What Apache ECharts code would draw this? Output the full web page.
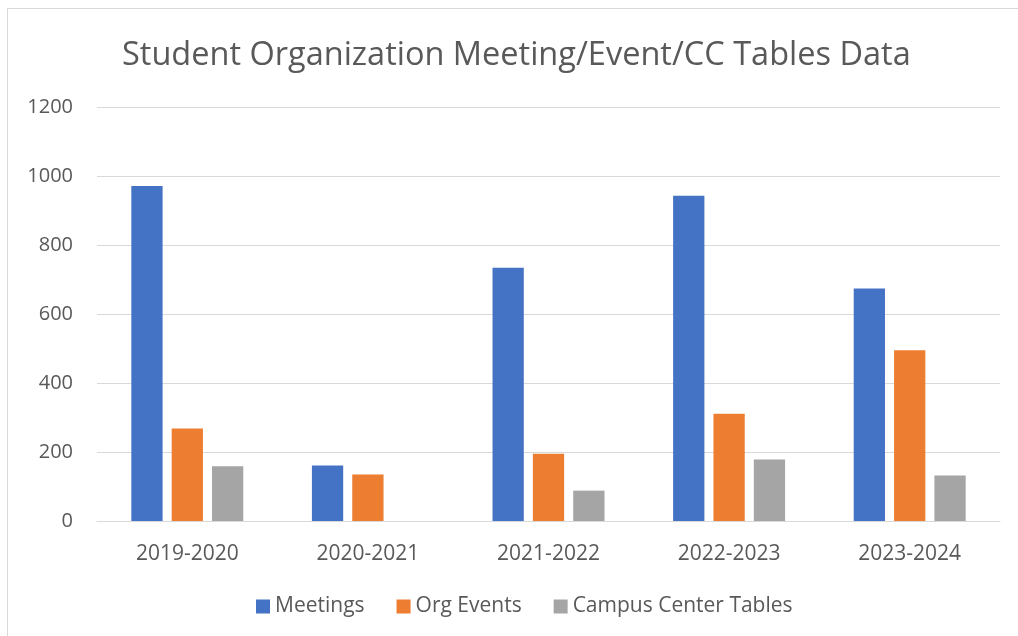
<!DOCTYPE html>
<html>
<head>
<meta charset="utf-8">
<script src="https://cdn.jsdelivr.net/npm/echarts@6/dist/echarts.min.js"></script>
<style>
  html, body { margin: 0; padding: 0; background: #fff; }
  #chart { width: 1018px; height: 636px; }
</style>
</head>
<body>
<div id="chart"></div>
<script>
// Data
const years = ['2019-2020', '2020-2021', '2021-2022', '2022-2023', '2023-2024'];
const meetings = [971, 161, 734, 943, 674];
const orgEvents = [268, 135, 195, 311, 495];
const ccTables = [159, 0, 88, 178, 132];

const font = '"Open Sans", "Noto Sans", sans-serif';
const textColor = '#595959';

const chart = echarts.init(document.getElementById('chart'));

function barSeries(name, data, color) {
  return {
    name: name,
    type: 'bar',
    data: data,
    barGap: '29%',
    barCategoryGap: '38%',
    itemStyle: { color: color },
    emphasis: { disabled: true }
  };
}

const option = {
  animation: false,
  backgroundColor: '#fff',
  title: {
    text: 'Student Organization Meeting/Event/CC Tables Data',
    left: 117,
    top: 34,
    textStyle: { fontFamily: font, fontSize: 32.5, fontWeight: 'normal', color: textColor }
  },
  legend: {
    bottom: 14,
    left: 251,
    itemWidth: 14,
    itemHeight: 14,
    itemGap: 32,
    icon: 'rect',
    textStyle: { fontFamily: font, fontSize: 21, color: textColor },
    data: ['Meetings', 'Org Events', 'Campus Center Tables']
  },
  grid: { left: 97, right: 18, top: 107, bottom: 115, containLabel: false },
  xAxis: {
    type: 'category',
    data: years,
    axisLine: { lineStyle: { color: '#D9D9D9', width: 1 } },
    axisTick: { show: false },
    axisLabel: { fontFamily: font, fontSize: 21, color: textColor, margin: 23 }
  },
  yAxis: {
    type: 'value',
    min: 0,
    max: 1200,
    interval: 200,
    axisLine: { show: false },
    axisTick: { show: false },
    splitLine: { lineStyle: { color: '#D9D9D9', width: 1 } },
    axisLabel: { fontFamily: font, fontSize: 20, color: textColor, margin: 24, formatter: function (v) { return String(v); } }
  },
  graphic: [
    { type: 'line', shape: { x1: 8, y1: 8.5, x2: 1018, y2: 8.5 }, style: { stroke: '#D9D9D9', lineWidth: 1 } },
    { type: 'line', shape: { x1: 7.5, y1: 8, x2: 7.5, y2: 636 }, style: { stroke: '#D9D9D9', lineWidth: 1 } }
  ],
  series: [
    barSeries('Meetings', meetings, '#4472C4'),
    barSeries('Org Events', orgEvents, '#ED7D31'),
    barSeries('Campus Center Tables', ccTables, '#A5A5A5')
  ]
};

chart.setOption(option);
</script>
</body>
</html>
